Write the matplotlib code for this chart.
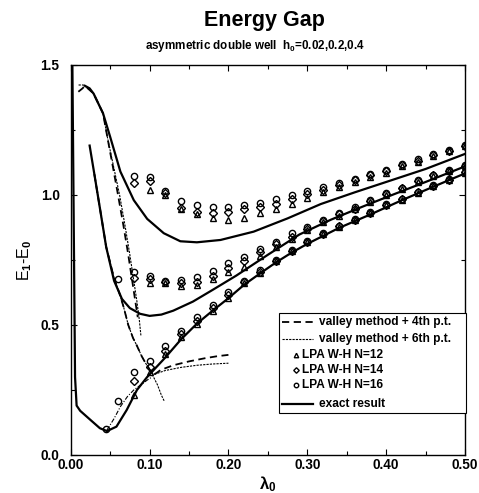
import matplotlib
matplotlib.use("Agg")
import matplotlib.pyplot as plt
from matplotlib.patches import Rectangle
from matplotlib.ticker import MultipleLocator

plt.rcParams['font.family'] = ['Liberation Sans', 'DejaVu Sans']
plt.rcParams['font.weight'] = 'bold'
plt.rcParams['mathtext.fontset'] = 'custom'
plt.rcParams['mathtext.rm'] = 'Liberation Sans:bold'
plt.rcParams['mathtext.it'] = 'Liberation Sans:bold'
plt.rcParams['mathtext.bf'] = 'Liberation Sans:bold'

# exact results, h0 = 0.02, 0.2, 0.4
lam_ex1 = [0.002, 0.0055, 0.0075, 0.012, 0.025, 0.037, 0.046, 0.058, 0.071, 0.084, 0.097, 0.12, 0.14,
           0.16, 0.18, 0.20, 0.22, 0.24, 0.26, 0.28, 0.30, 0.34, 0.38, 0.42, 0.46, 0.50]
gap_ex1 = [1.55, 0.30, 0.19, 0.170, 0.135, 0.103, 0.092, 0.109, 0.173, 0.25, 0.30, 0.375, 0.445,
           0.505, 0.555, 0.603, 0.655, 0.698, 0.74, 0.778, 0.812, 0.873, 0.925, 0.98, 1.032, 1.083]

lam_ex2 = [0.024, 0.03, 0.037, 0.045, 0.055, 0.065, 0.075, 0.088, 0.10, 0.115, 0.13, 0.155,
           0.18, 0.21, 0.25, 0.29, 0.33, 0.37, 0.41, 0.45, 0.50]
gap_ex2 = [1.19, 1.08, 0.95, 0.80, 0.67, 0.60, 0.565, 0.543, 0.535, 0.54, 0.555, 0.59,
           0.635, 0.69, 0.77, 0.848, 0.905, 0.955, 1.003, 1.05, 1.11]

lam_ex3 = [0.018, 0.024, 0.029, 0.041, 0.05, 0.063, 0.08, 0.097, 0.118, 0.139, 0.16, 0.19, 0.232,
           0.275, 0.317, 0.36, 0.40, 0.45, 0.50]
gap_ex3 = [1.42, 1.41, 1.39, 1.314, 1.224, 1.09, 0.98, 0.908, 0.853, 0.822, 0.818, 0.827, 0.859,
           0.91, 0.965, 1.01, 1.05, 1.10, 1.158]

# valley method + 4th p.t.
lam_v4_h04 = [0.0097, 0.015, 0.018, 0.029, 0.041, 0.046, 0.054, 0.060, 0.067, 0.073, 0.078, 0.082, 0.085]
gap_v4_h04 = [1.397, 1.41, 1.42, 1.39, 1.314, 1.23, 1.10, 1.0, 0.88, 0.77, 0.67, 0.59, 0.53]
lam_v4_h02 = [0.03, 0.037, 0.045, 0.055, 0.062, 0.067, 0.073, 0.079, 0.084, 0.090, 0.095, 0.10]
gap_v4_h02 = [1.08, 0.95, 0.80, 0.68, 0.62, 0.57, 0.50, 0.45, 0.42, 0.38, 0.353, 0.33]
lam_v4_h002 = [0.106, 0.110, 0.114, 0.13, 0.15, 0.17, 0.186, 0.20]
gap_v4_h002 = [0.31, 0.318, 0.327, 0.345, 0.36, 0.372, 0.38, 0.385]

# valley method + 6th p.t.
lam_v6_h04 = [0.010, 0.016, 0.018, 0.029, 0.041, 0.046, 0.055, 0.062, 0.069, 0.075, 0.080, 0.084, 0.087, 0.089]
gap_v6_h04 = [1.423, 1.423, 1.42, 1.39, 1.314, 1.23, 1.10, 1.0, 0.88, 0.77, 0.67, 0.59, 0.52, 0.46]
lam_v6_h02 = [0.03, 0.037, 0.045, 0.055, 0.062, 0.067, 0.073, 0.079, 0.084, 0.090, 0.095,
              0.10, 0.105, 0.11, 0.115, 0.119]
gap_v6_h02 = [1.08, 0.95, 0.80, 0.68, 0.62, 0.57, 0.50, 0.45, 0.42, 0.38, 0.353,
              0.33, 0.30, 0.27, 0.23, 0.205]
lam_v6_h002 = [0.106, 0.12, 0.14, 0.16, 0.18, 0.20]
gap_v6_h002 = [0.31, 0.325, 0.337, 0.345, 0.35, 0.353]
lam_v6_h002_left = [0.046, 0.055, 0.063, 0.072, 0.08, 0.09, 0.097, 0.103]
gap_v6_h002_left = [0.096, 0.14, 0.186, 0.225, 0.25, 0.272, 0.288, 0.30]

# LPA W-H points
lam_grid = [0.10, 0.12, 0.14, 0.16, 0.18, 0.20, 0.22, 0.24, 0.26, 0.28, 0.30, 0.32,
            0.34, 0.36, 0.38, 0.40, 0.42, 0.44, 0.46, 0.48, 0.50]
lam_grid08 = [0.08] + lam_grid

# h0 = 0.4
n16_h04 = [1.074, 1.068, 1.015, 0.976, 0.96, 0.955, 0.955, 0.962, 0.97, 0.983, 1.0, 1.015, 1.03,
           1.045, 1.062, 1.082, 1.098, 1.12, 1.137, 1.157, 1.173, 1.192]
n14_h04 = [1.047, 1.055, 1.008, 0.949, 0.935, 0.93, 0.935, 0.945, 0.955, 0.967, 0.985, 1.003, 1.02,
           1.037, 1.056, 1.075, 1.092, 1.116, 1.132, 1.153, 1.17, 1.19]
n12_h04 = [1.019, 1.0, 0.945, 0.925, 0.91, 0.905, 0.91, 0.93, 0.945, 0.965, 0.988, 1.01,
           1.03, 1.05, 1.068, 1.086, 1.112, 1.128, 1.15, 1.168, 1.188]

# h0 = 0.2
n16_h02 = [0.705, 0.688, 0.67, 0.673, 0.686, 0.709, 0.737, 0.76, 0.791, 0.82, 0.853, 0.878, 0.904,
           0.93, 0.952, 0.98, 1.006, 1.028, 1.056, 1.077, 1.096, 1.115]
n14_h02 = [0.68, 0.675, 0.665, 0.66, 0.665, 0.69, 0.72, 0.745, 0.78, 0.81, 0.84, 0.87, 0.90,
           0.925, 0.948, 0.977, 1.003, 1.025, 1.053, 1.075, 1.094, 1.113]
n12_h02 = [0.654, 0.66, 0.662, 0.65, 0.654, 0.676, 0.705, 0.722, 0.766, 0.80, 0.83, 0.865, 0.895,
           0.92, 0.945, 0.973, 1.0, 1.023, 1.05, 1.073, 1.092, 1.11]

# h0 = 0.02
n16_h002 = [0.319, 0.363, 0.42, 0.476, 0.532, 0.577, 0.625, 0.67, 0.71, 0.75, 0.787, 0.822, 0.853,
            0.881, 0.907, 0.933, 0.965, 0.986, 1.012, 1.037, 1.061, 1.09]
n14_h002 = [0.286, 0.34, 0.40, 0.465, 0.515, 0.565, 0.615, 0.665, 0.705, 0.748, 0.785, 0.82, 0.851,
            0.879, 0.905, 0.931, 0.963, 0.984, 1.01, 1.035, 1.059, 1.088]
n12_h002 = [0.23, 0.32, 0.39, 0.455, 0.505, 0.555, 0.605, 0.66, 0.70, 0.745, 0.783, 0.818, 0.849,
            0.877, 0.903, 0.929, 0.961, 0.982, 1.008, 1.033, 1.057, 1.086]

# extra circles at small lambda
lam_n16_extra = [0.045, 0.06, 0.06]
gap_n16_extra = [0.099, 0.209, 0.676]

legend_labels = ["valley method + 4th p.t.", "valley method + 6th p.t.", "LPA W-H N=12",
                 "LPA W-H N=14", "LPA W-H N=16", "exact result"]

fig = plt.figure(figsize=(4.79, 4.93), dpi=100)
ax = fig.add_axes([0.1476, 0.0771, 0.8232, 0.7911])

ex_kw = dict(color='black', lw=1.6, zorder=3)
ax.plot(lam_ex1, gap_ex1, **ex_kw)
ax.plot(lam_ex2, gap_ex2, **ex_kw)
ax.plot(lam_ex3, gap_ex3, **ex_kw)

v4_kw = dict(color='black', lw=1.3, linestyle=(0, (4, 2.5)), zorder=2)
ax.plot(lam_v4_h04, gap_v4_h04, **v4_kw)
ax.plot(lam_v4_h02, gap_v4_h02, **v4_kw)
ax.plot(lam_v4_h002, gap_v4_h002, **v4_kw)

v6_kw = dict(color='black', lw=0.8, linestyle=(0, (2, 1)), zorder=2)
ax.plot(lam_v6_h04, gap_v6_h04, **v6_kw)
ax.plot(lam_v6_h02, gap_v6_h02, **v6_kw)
ax.plot(lam_v6_h002, gap_v6_h002, **v6_kw)
ax.plot(lam_v6_h002_left, gap_v6_h002_left, color='black', lw=0.8,
        linestyle=(0, (4, 1.5, 1, 1.5)), zorder=2)

mk = dict(linestyle='none', markerfacecolor='none', markeredgecolor='black',
          markeredgewidth=1.0, markersize=4.5, zorder=4)
dk = dict(mk, markersize=3.8)
ax.plot(lam_grid, n12_h04, marker='^', **mk)
ax.plot(lam_grid08, n14_h04, marker='D', **dk)
ax.plot(lam_grid08, n16_h04, marker='o', **mk)
ax.plot(lam_grid08[1:], n12_h02[1:], marker='^', **mk)
ax.plot(lam_grid08, n14_h02, marker='D', **dk)
ax.plot(lam_grid08, n16_h02, marker='o', **mk)
ax.plot(lam_grid08, n12_h002, marker='^', **mk)
ax.plot(lam_grid08, n14_h002, marker='D', **dk)
ax.plot(lam_grid08, n16_h002, marker='o', **mk)
ax.plot(lam_n16_extra, gap_n16_extra, marker='o', **mk)

ax.set_xlim(0, 0.5)
ax.set_ylim(0, 1.5)
ax.xaxis.set_major_locator(MultipleLocator(0.1))
ax.xaxis.set_minor_locator(MultipleLocator(0.05))
ax.yaxis.set_major_locator(MultipleLocator(0.5))
ax.yaxis.set_minor_locator(MultipleLocator(0.25))
ax.set_xticklabels([f"{v:.2f}" for v in ax.get_xticks()])
ax.set_yticklabels([f"{v:.1f}" for v in ax.get_yticks()])
ax.tick_params(which='both', direction='in', top=True, right=True, width=0.8)
ax.tick_params(which='major', length=4, labelsize=9.8)
ax.tick_params(which='minor', length=3)
ax.tick_params(axis='x', pad=2.5)
ax.tick_params(axis='y', pad=8)
for s in ax.spines.values():
    s.set_linewidth(1.0)

ax.set_xlabel(r"$\lambda_0$", fontsize=12, labelpad=1)
ax.set_ylabel(r"E$_1$-E$_0$", fontsize=11.5, labelpad=5)

fig.text(0.552, 0.959, "Energy Gap", ha='center', va='center', fontsize=15.5, fontweight='bold')
fig.text(0.532, 0.907, r"asymmetric double well  h$_0$=0.02,0.2,0.4", ha='center', va='center',
         fontsize=8.4, fontweight='bold')

# hand-built legend box (axes coordinates), markers sit just left of their text
ax.add_patch(Rectangle((0.527, 0.108), 0.476, 0.256, transform=ax.transAxes,
                       facecolor='white', edgecolor='black', lw=0.8, zorder=5, clip_on=False))
row_y = [0.342, 0.298, 0.257, 0.218, 0.179, 0.131]
line_styles = [v4_kw, v6_kw, None, None, None, ex_kw]
row_markers = [None, None, '^', 'D', 'o', None]
for y, lab, ls, m in zip(row_y, legend_labels, line_styles, row_markers):
    if ls is not None:
        ax.plot([0.535, 0.615], [y, y], transform=ax.transAxes, clip_on=False,
                **dict(ls, zorder=6))
        ax.text(0.630, y, lab, transform=ax.transAxes, ha='left', va='center',
                fontsize=8.6, zorder=6)
    else:
        ax.plot([0.572], [y], transform=ax.transAxes, clip_on=False, marker=m,
                **dict(mk, markersize=3.2 if m != 'D' else 2.8, zorder=6))
        ax.text(0.586, y, lab, transform=ax.transAxes, ha='left', va='center',
                fontsize=8.6, zorder=6)

fig.savefig("out.png", dpi=100)
